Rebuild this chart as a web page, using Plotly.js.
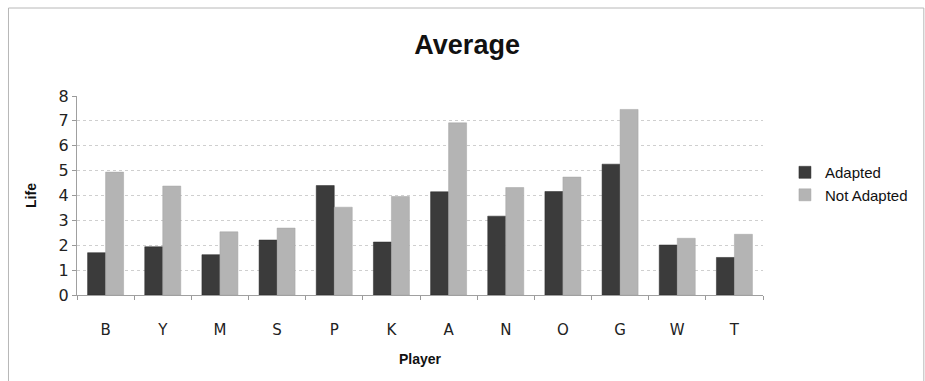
<!DOCTYPE html>
<html>
<head>
<meta charset="utf-8">
<script src="https://cdn.plot.ly/plotly-3.0.1.min.js"></script>
<style>
  html, body { margin: 0; padding: 0; background: #ffffff; }
  #chart { width: 925px; height: 381px; }
</style>
</head>
<body>
<div id="chart"></div>
<script>
// Average life per player, adapted vs. not adapted
const players = ["B", "Y", "M", "S", "P", "K", "A", "N", "O", "G", "W", "T"];
const adapted = [1.70, 1.94, 1.62, 2.21, 4.40, 2.13, 4.15, 3.17, 4.16, 5.26, 2.01, 1.51];
const notAdapted = [4.94, 4.38, 2.54, 2.69, 3.53, 3.96, 6.92, 4.32, 4.74, 7.46, 2.28, 2.44];
const yTicks = [0, 1, 2, 3, 4, 5, 6, 7, 8];

const W = 925, H = 381;
const M = { l: 77, r: 157, t: 96, b: 86 };
const pw = W - M.l - M.r, ph = H - M.t - M.b;

const traces = [
  {
    type: "bar", name: "Adapted", x: players, y: adapted,
    marker: { color: "#3b3b3b", line: { color: "#2a2a2a", width: 0.5 } }
  },
  {
    type: "bar", name: "Not Adapted", x: players, y: notAdapted,
    marker: { color: "#b4b4b4", line: { color: "#a4a4a4", width: 0.5 } }
  }
];

const layout = {
  width: W, height: H,
  margin: M,
  paper_bgcolor: "#ffffff",
  plot_bgcolor: "#ffffff",
  barmode: "group",
  bargap: 0.37,
  bargroupgap: 0,
  showlegend: true,
  title: {
    text: "<b>Average</b>",
    font: { family: "Liberation Sans Narrow, Arial Narrow, Liberation Sans, Arial", size: 27, color: "#111111" },
    x: 0.505, xref: "container", xanchor: "center",
    y: 1 - 45 / H, yref: "container", yanchor: "middle"
  },
  legend: {
    x: 1.032, xanchor: "left", y: 0.56, yanchor: "middle",
    font: { family: "Liberation Sans, Arial", size: 15, color: "#111111" },
    itemwidth: 30, tracegroupgap: 6,
    bgcolor: "rgba(0,0,0,0)"
  },
  xaxis: {
    type: "category",
    tickvals: players,
    ticktext: players,
    tickson: "boundaries",
    ticks: "outside", ticklen: 4, tickcolor: "#999999",
    showline: true, linecolor: "#a0a0a0", linewidth: 1,
    showgrid: false,
    ticklabelstandoff: 21,
    tickfont: { family: "DejaVu Sans, Verdana", size: 15, color: "#222222" },
    title: {
      text: "<b>Player</b>",
      font: { family: "Liberation Sans Narrow, Arial Narrow, Liberation Sans, Arial", size: 14, color: "#111111" },
      standoff: 16
    }
  },
  yaxis: {
    range: [0, 8],
    tickvals: yTicks,
    ticks: "outside", ticklen: 4, tickcolor: "#999999",
    showline: true, linecolor: "#a0a0a0", linewidth: 1,
    showgrid: true, gridcolor: "#cfcfcf", gridwidth: 1, griddash: "dot",
    zeroline: false,
    tickfont: { family: "DejaVu Sans, Verdana", size: 16, color: "#222222" },
    title: {
      text: "<b>Life</b>",
      font: { family: "Liberation Sans Narrow, Arial Narrow, Liberation Sans, Arial", size: 14, color: "#111111" },
      standoff: 18
    }
  },
  shapes: [
    // outer frame; right and bottom edges run past the page
    {
      type: "rect", xref: "paper", yref: "paper",
      x0: (8 - M.l) / pw, x1: (W + 5 - M.l) / pw,
      y0: -(M.b + 5) / ph, y1: (H - 8 - M.b) / ph,
      line: { color: "#b8b8b8", width: 1 }, fillcolor: "rgba(0,0,0,0)", layer: "below"
    }
  ]
};

Plotly.newPlot("chart", traces, layout, { staticPlot: true, displayModeBar: false });
</script>
</body>
</html>
